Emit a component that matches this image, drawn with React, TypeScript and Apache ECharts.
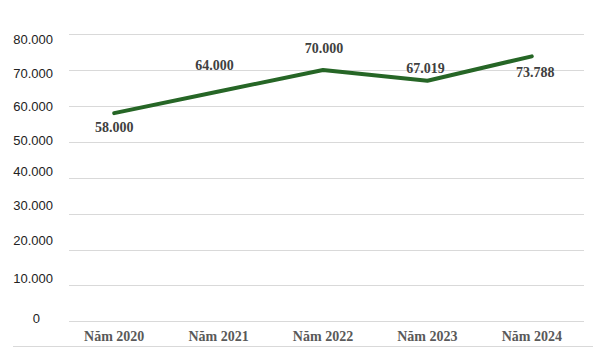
import React, { useEffect, useRef } from "react";
import * as echarts from "echarts";

const categories = ["Năm 2020", "Năm 2021", "Năm 2022", "Năm 2023", "Năm 2024"];
const values = [58000, 64000, 70000, 67019, 73788];
const yTicks = [0, 10000, 20000, 30000, 40000, 50000, 60000, 70000, 80000];

// label offsets (style only) relative to each point
const labelOffsets: [number, number][] = [
  [0, 14],
  [-4, -26],
  [1, -21],
  [-2, -12],
  [3.5, 16],
];
// vertical nudge of y-axis labels (style only), indexed like yTicks
const yLabelShift = [-3.7, -7.3, -9.3, -8.3, -6, -1, 1, 4, 5.3];

const fmt = (v: number) =>
  Math.round(v)
    .toString()
    .replace(/\B(?=(\d{3})+(?!\d))/g, ".");

export default function App() {
  const ref = useRef<HTMLDivElement>(null);
  useEffect(() => {
    if (!ref.current) return;
    const chart = echarts.init(ref.current, undefined, { renderer: "svg" });
    const rich: Record<string, any> = {};
    yTicks.forEach((t, i) => {
      const d = yLabelShift[i];
      rich["y" + i] = {
        fontFamily: "Liberation Sans, Arial, sans-serif",
        fontSize: 13,
        color: "#222222",
        padding: [d > 0 ? 2 * d : 0, t === 0 ? 13 : 0, d < 0 ? -2 * d : 0, 0],
      };
    });
    chart.setOption({
      animation: false,
      backgroundColor: "#ffffff",
      grid: [
        { left: 62, right: 9, top: 34, bottom: 32.3 },
        { left: 69, right: 9, top: 34, bottom: 32.3 },
      ],
      xAxis: [
        {
          type: "category",
          gridIndex: 0,
          data: categories,
          boundaryGap: true,
          axisLine: { show: false },
          axisTick: { show: false },
          axisLabel: {
            margin: 8,
            fontFamily: "Liberation Serif, Times New Roman, serif",
            fontWeight: "bold",
            fontSize: 14,
            color: "#595959",
          },
        },
        {
          type: "value",
          gridIndex: 1,
          show: false,
        },
      ],
      yAxis: [
        {
          type: "value",
          gridIndex: 0,
          min: 0,
          max: 80000,
          interval: 10000,
          show: false,
          splitLine: { show: false },
        },
        {
          type: "value",
          gridIndex: 1,
          min: 0,
          max: 80000,
          interval: 10000,
          axisLine: { show: false },
          axisTick: { show: false },
          splitLine: { show: true, lineStyle: { color: "#d9d9d9", width: 1 } },
          axisLabel: {
            margin: 16,
            formatter: (v: number) => {
              const i = yTicks.indexOf(v);
              return "{y" + i + "|" + fmt(v) + "}";
            },
            rich,
          },
        },
      ],
      series: [
        {
          type: "line",
          xAxisIndex: 0,
          yAxisIndex: 0,
          z: 5,
          data: values.map((v, i) => ({
            value: v,
            label: { offset: labelOffsets[i] },
          })),
          symbol: "circle",
          symbolSize: 1,
          showSymbol: true,
          itemStyle: { color: "#266626" },
          lineStyle: { color: "#266626", width: 4, cap: "round", join: "round" },
          label: {
            show: true,
            position: "inside",
            formatter: (p: any) => fmt(p.value),
            fontFamily: "Liberation Serif, Times New Roman, serif",
            fontWeight: "bold",
            fontSize: 14,
            color: "#404040",
          },
          emphasis: { disabled: true },
        },
      ],
      graphic: [
        {
          type: "line",
          shape: { x1: 13, y1: 346.5, x2: 593, y2: 346.5 },
          style: { stroke: "#d9d9d9", lineWidth: 1 },
        },
      ],
    });
    return () => chart.dispose();
  }, []);
  return (
    <div
      ref={ref}
      style={{ position: "fixed", left: 0, top: 0, width: 593, height: 354 }}
    />
  );
}
